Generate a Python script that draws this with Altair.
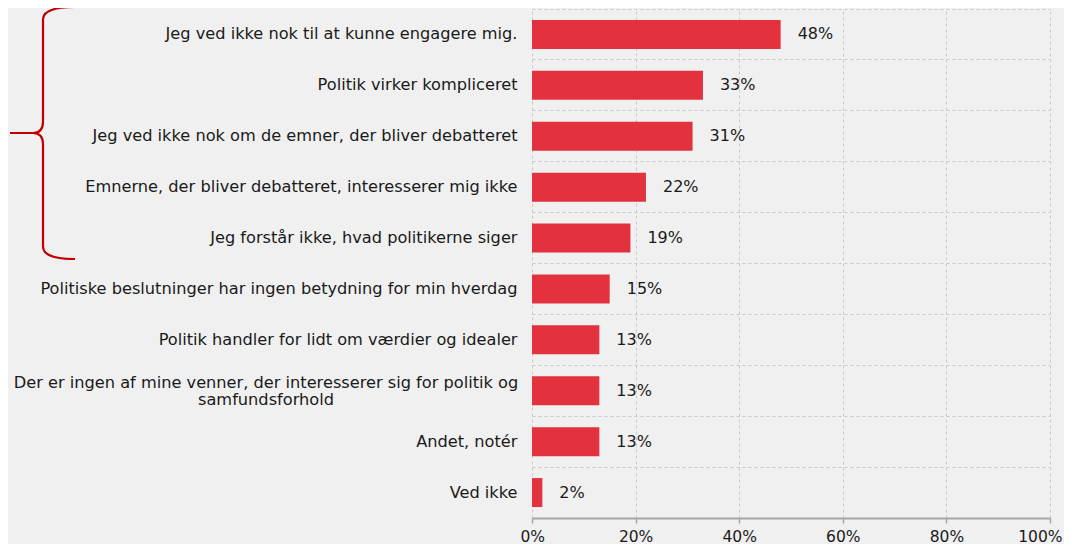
import altair as alt
import pandas as pd

categories = [
    "Jeg ved ikke nok til at kunne engagere mig.",
    "Politik virker kompliceret",
    "Jeg ved ikke nok om de emner, der bliver debatteret",
    "Emnerne, der bliver debatteret, interesserer mig ikke",
    "Jeg forstår ikke, hvad politikerne siger",
    "Politiske beslutninger har ingen betydning for min hverdag",
    "Politik handler for lidt om værdier og idealer",
    "Der er ingen af mine venner, der interesserer sig for politik og samfundsforhold",
    "Andet, notér",
    "Ved ikke",
]
values = [48, 33, 31, 22, 19, 15, 13, 13, 13, 2]
wrapped = ["", "", "", "", "", "", "",
           "Der er ingen af mine venner, der interesserer sig for politik og|samfundsforhold",
           "", ""]
x_ticks = [0, 20, 40, 60, 80, 100]

df = pd.DataFrame({"cat": categories, "val": values, "wrap": wrapped,
                   "lab": [f"{v}%" for v in values]})

FONT = "DejaVu Sans"
RED = "#e3313e"
GRID = "#c8c8c8"
TXT = "#1a1a1a"

# decorative curly brace as a custom symbol path (unit square -1..1)
BRACE = ("M 0.254 -1 Q 0 -1 0 -0.9 L 0 -0.09 Q 0 0 -0.08 0 L -0.262 0 "
         "M -0.262 0 L -0.08 0 Q 0 0 0 0.09 L 0 0.9 Q 0 1 0.254 1")

y_enc = alt.Y("cat:N", sort=categories, title=None,
              scale=alt.Scale(paddingInner=0, paddingOuter=0),
              axis=alt.Axis(grid=True, bandPosition=0, ticks=False, domain=False,
                            gridDash=[3, 3], gridColor=GRID, gridWidth=1,
                            labelFont=FONT, labelFontSize=16.2, labelColor=TXT,
                            labelPadding=15, labelLimit=600,
                            labelExpr="indexof(datum.value, 'Der er ingen') === 0 ? '' : datum.label"))
x_enc = alt.X("val:Q", title=None,
              scale=alt.Scale(domain=[0, 100], nice=False),
              axis=alt.Axis(values=x_ticks, labelExpr="datum.value + '%'",
                            grid=True, gridDash=[3, 3], gridColor=GRID,
                            domainColor="#a6a6a6", domainWidth=2,
                            tickColor="#a6a6a6", tickSize=5, tickWidth=1.5,
                            labelFont=FONT, labelFontSize=15.5, labelColor=TXT,
                            labelPadding=6, labelFlush=True, labelFlushOffset=12))

base = alt.Chart(df)
bars = base.mark_bar(color=RED, size=29).encode(y=y_enc, x=x_enc)
vals = base.mark_text(align="left", baseline="middle", dx=17, font=FONT,
                      fontSize=16, color=TXT).encode(
    y=alt.Y("cat:N", sort=categories), x=alt.X("val:Q"), text="lab:N")
wraps = base.mark_text(align="center", baseline="middle", lineBreak="|", lineHeight=17,
                       dy=-8, font=FONT, fontSize=16.2, color=TXT).encode(
    y=alt.Y("cat:N", sort=categories), x=alt.value(-266), text="wrap:N")

brace = alt.Chart(pd.DataFrame({"k": [0]})).mark_point(
    shape=BRACE, filled=False, stroke="#c00000", strokeWidth=2.2, opacity=1,
    size=252 * 252,
).encode(x=alt.value(-489), y=alt.value(124))

chart = alt.layer(bars, vals, wraps, brace).properties(
    width=518, height=509, autosize="none",
    padding={"left": 524, "top": 1, "right": 14, "bottom": 26},
    background="#f0f0f0",
).configure_view(stroke=None)

chart.save("out.html", embed_options={"renderer": "svg", "actions": False})
